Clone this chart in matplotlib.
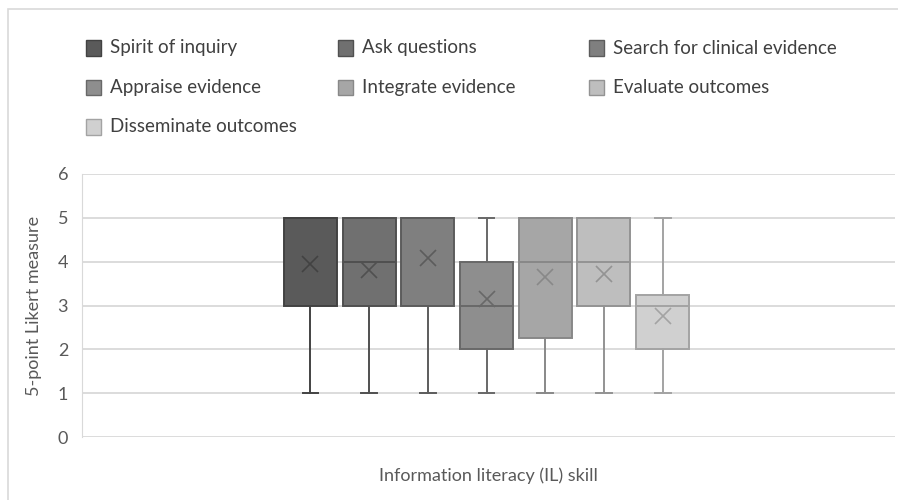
import matplotlib.pyplot as plt
from matplotlib.patches import Rectangle

plt.rcParams['font.family'] = ['Lato', 'DejaVu Sans']

# Daten der sieben Kompetenzen (Min, Q1, Median, Q3, Max, Mittelwert)
skills = ['Spirit of inquiry', 'Ask questions', 'Search for clinical evidence',
          'Appraise evidence', 'Integrate evidence', 'Evaluate outcomes',
          'Disseminate outcomes']
w_lo = [1, 1, 1, 1, 1, 1, 1]
q1 = [3, 3, 3, 2, 2.25, 3, 2]
med = [5, 4, 5, 3, 4, 4, 3]
q3 = [5, 5, 5, 4, 5, 5, 3.25]
w_hi = [5, 5, 5, 5, 5, 5, 5]
means = [3.95, 3.82, 4.08, 3.15, 3.65, 3.72, 2.75]

fills = ['#5a5a5a', '#707070', '#7f7f7f', '#8e8e8e', '#a6a6a6', '#bebebe', '#d0d0d0']
edges = ['#424242', '#505050', '#5c5c5c', '#686868', '#888888', '#939393', '#a3a3a3']

stats = []
for i in range(len(skills)):
    stats.append({'label': skills[i], 'whislo': w_lo[i], 'q1': q1[i], 'med': med[i],
                  'q3': q3[i], 'whishi': w_hi[i], 'mean': means[i]})

fig = plt.figure(figsize=(8.98, 5), dpi=100)
ax = fig.add_axes([82 / 898, 1 - 437 / 500, 813 / 898, 263 / 500])

pos = list(range(1, len(skills) + 1))
bp = ax.bxp(stats, positions=pos, widths=0.9, patch_artist=True, showmeans=True,
            showfliers=False, capwidths=0.27, manage_ticks=False)

for i in range(len(skills)):
    bp['boxes'][i].set(facecolor=fills[i], edgecolor=edges[i], linewidth=1.4)
    bp['medians'][i].set(color=edges[i], linewidth=1.4)
    for ln in bp['whiskers'][2 * i:2 * i + 2] + bp['caps'][2 * i:2 * i + 2]:
        ln.set(color=edges[i], linewidth=1.4)
    bp['means'][i].set(marker='x', markersize=12, markeredgecolor=edges[i],
                       markeredgewidth=1.2, markerfacecolor='none')

ax.set_ylim(0, 6)
ax.set_xlim(-2.893, 10.96)
ax.set_yticks(range(0, 7))
ax.set_xticks([])
ax.grid(axis='y', color='#d9d9d9', linewidth=1.3)
ax.set_axisbelow(True)
for s in ['top', 'right', 'bottom']:
    ax.spines[s].set_visible(False)
ax.spines['left'].set_color('#d9d9d9')
ax.tick_params(axis='y', length=0, labelsize=13, labelcolor='#595959', pad=10)
ax.set_ylabel('5-point Likert measure', fontsize=13, color='#595959', labelpad=11)
ax.set_xlabel('Information literacy (IL) skill', fontsize=13, color='#595959', labelpad=22)

# Legende von Hand, drei Spalten
for i in range(len(skills)):
    r, c = i // 3, i % 3
    x0 = (86 + c * 251.5) / 898
    y0 = 1 - (48 + r * 39.5) / 500
    fig.patches.append(Rectangle((x0, y0 - 7.5 / 500), 15 / 898, 15 / 500,
                                 transform=fig.transFigure, facecolor=fills[i],
                                 edgecolor=edges[i], linewidth=1))
    fig.text(x0 + 24 / 898, y0, skills[i], fontsize=13.5, color='#404040', va='center')

# Rahmen des Diagramms
fig.patches.append(Rectangle((8 / 898, -0.1), 1.1, 1 - 9 / 500 + 0.1,
                             transform=fig.transFigure, facecolor='none',
                             edgecolor='#d9d9d9', linewidth=1.2))

fig.savefig('out.png', dpi=100)
